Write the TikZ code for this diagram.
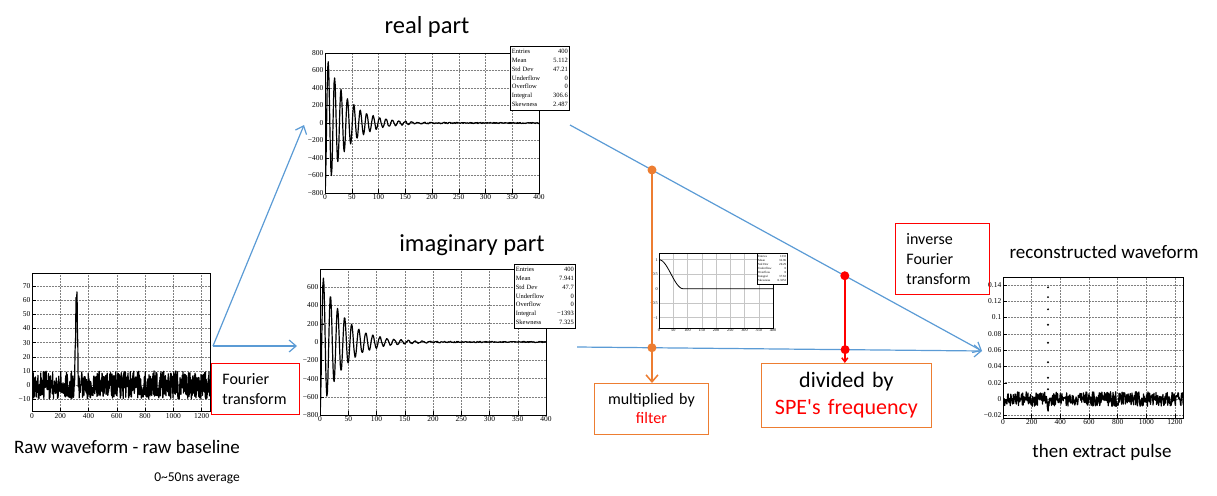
\documentclass[tikz,border=0pt]{standalone}
\usepackage{fontspec}
\setmainfont{Carlito}
\newfontfamily\rootfont{Liberation Serif}
\usetikzlibrary{arrows.meta,positioning}
\definecolor{flowblue}{RGB}{91,155,213}
\definecolor{floworange}{RGB}{237,125,49}
\tikzset{
  plotframe/.style={draw=black,line width=0.8pt},
  gridline/.style={draw=gray,densely dotted,line width=0.5pt},
  signal/.style={draw=black,line width=1.2pt,line join=round},
  ticklab/.style={font=\rootfont\fontsize{7.5}{9}\selectfont,inner sep=1.5pt},
  statbox/.style={draw=black,line width=0.7pt,fill=white,inner sep=1.5pt,anchor=north west,
    font=\rootfont\fontsize{6.5}{8.7}\selectfont},
  plottitle/.style={font=\fontsize{24.5}{28}\selectfont},
  capfont/.style={font=\fontsize{19}{22}\selectfont},
  redbox/.style={draw=red,line width=0.8pt,anchor=north west,align=left,inner xsep=11pt,
    font=\fontsize{16}{20}\selectfont},
  orangebox/.style={draw=floworange,line width=0.8pt,anchor=north west,align=center,inner xsep=0pt},
  bluearrow/.style={draw=flowblue,line width=1.2pt,->},
}
\newcommand{\statrows}[8]{%
  \begin{tabular*}{#1}{@{}l@{\extracolsep{\fill}}r@{}}
    Entries & #2\\ Mean & #3\\ Std Dev & #4\\ Underflow & #5\\
    Overflow & #6\\ Integral & #7\\ Skewness & #8
  \end{tabular*}}

\begin{document}
\begin{tikzpicture}[x=1pt,y=-1pt,>={Straight Barb[length=7pt,width=12pt]}]
\useasboundingbox (0,0) rectangle (1217,495);
\pgfmathsetseed{2718}

% raw waveform
\begin{scope}[shift={(32pt,-385pt)},x=0.1413pt,y=1.4125pt]
  \foreach \gx in {200,400,...,1200}
    \draw[gridline] (\gx,-19) -- (\gx,79);
  \foreach \gy in {-10,0,...,70}
    \draw[gridline] (0,\gy) -- (1260,\gy);
  \begin{scope}
    \clip (0,-19) rectangle (1260,79);
    \draw[signal] plot[domain=0:1260,samples=631]
      (\x,{10*rand+72*max(0,1-abs(\x-315)/14)});
  \end{scope}
  \draw[plotframe] (0,-19) rectangle (1260,79);
  \foreach \gx in {0,200,...,1200}{
    \draw (\gx,-19) -- +(0pt,4pt);
    \node[ticklab,anchor=north] at (\gx,-19) {\gx};}
  \foreach \gy/\lab in {-10/−10,0/0,10/10,20/20,30/30,40/40,50/50,60/60,70/70}{
    \draw (0,\gy) -- +(4pt,0pt);
    \node[ticklab,anchor=east] at (0,\gy) {\lab};}
\end{scope}

% real part
\begin{scope}[shift={(325pt,-123pt)},x=0.535pt,y=0.0875pt]
  \foreach \gx in {50,100,...,350}
    \draw[gridline] (\gx,-800) -- (\gx,800);
  \foreach \gy in {-600,-400,...,600}
    \draw[gridline] (0,\gy) -- (400,\gy);
  \begin{scope}
    \clip (0,-800) rectangle (400,800);
    \draw[signal] plot[domain=0:400,samples=401]
      (\x,{820*exp(-\x/39)*cos(30*(\x-6))+6*rand});
  \end{scope}
  \draw[plotframe] (0,-800) rectangle (400,800);
  \foreach \gx in {0,50,...,400}{
    \draw (\gx,-800) -- +(0pt,4pt);
    \node[ticklab,anchor=north] at (\gx,-800) {\gx};}
  \foreach \gy/\lab in {-800/−800,-600/−600,-400/−400,-200/−200,0/0,200/200,400/400,600/600,800/800}{
    \draw (0,\gy) -- +(4pt,0pt);
    \node[ticklab,anchor=east] at (0,\gy) {\lab};}
\end{scope}
\node[statbox,text width=56pt] (realstats) at (510,46)
  {\statrows{56pt}{400}{5.112}{47.21}{0}{0}{306.6}{2.487}};
\node[plottitle] (realtitle) at (427,27) {real part};

% imaginary part
\begin{scope}[shift={(320pt,-342pt)},x=0.565pt,y=0.0915pt]
  \foreach \gx in {50,100,...,350}
    \draw[gridline] (\gx,-800) -- (\gx,790);
  \foreach \gy in {-600,-400,...,600}
    \draw[gridline] (0,\gy) -- (400,\gy);
  \begin{scope}
    \clip (0,-800) rectangle (400,790);
    \draw[signal] plot[domain=0:400,samples=401]
      (\x,{820*exp(-\x/39)*sin(28.8*(\x-3))+6*rand});
  \end{scope}
  \draw[plotframe] (0,-800) rectangle (400,790);
  \foreach \gx in {0,50,...,400}{
    \draw (\gx,-800) -- +(0pt,4pt);
    \node[ticklab,anchor=north] at (\gx,-800) {\gx};}
  \foreach \gy/\lab in {-800/−800,-600/−600,-400/−400,-200/−200,0/0,200/200,400/400,600/600}{
    \draw (0,\gy) -- +(4pt,0pt);
    \node[ticklab,anchor=east] at (0,\gy) {\lab};}
\end{scope}
\node[statbox,text width=58pt] (imagstats) at (514,264)
  {\statrows{58pt}{400}{7.941}{47.7}{0}{0}{−1393}{7.325}};
\node[plottitle] (imagtitle) at (472,245) {imaginary part};

% filter
\begin{scope}[shift={(659pt,-288.7pt)},x=0.285pt,y=29pt]
  \foreach \gx in {50,100,...,350}
    \draw[gridline,solid,draw=gray!45] (\gx,-1.35) -- (\gx,1.22);
  \foreach \gy in {-1,-0.5,0.5,1}
    \draw[gridline,solid,draw=gray!45] (0,\gy) -- (400,\gy);
  \draw[signal,line width=0.8pt] plot[domain=0:85,samples=30]
    (\x,{0.5*(1+cos(180*\x/85))}) -- (400,0);
  \draw[plotframe,line width=0.5pt] (0,-1.35) rectangle (400,1.22);
  \foreach \gx in {0,50,...,400}
    \node[ticklab,font=\rootfont\fontsize{4.2}{5}\selectfont,anchor=north,inner sep=1pt] at (\gx,-1.35) {\gx};
  \foreach \gy/\lab in {-1/−1,-0.5/−0.5,0/0,0.5/0.5,1/1}
    \node[ticklab,font=\rootfont\fontsize{4.2}{5}\selectfont,anchor=east,inner sep=1pt] at (0,\gy) {\lab};
\end{scope}
\node[statbox,text width=28pt,inner sep=1pt,line width=0.4pt,font=\rootfont\fontsize{3.1}{4.1}\selectfont]
  (filterstats) at (757,253) {\statrows{28pt}{1333}{32.96}{20.29}{0}{0}{37.63}{0.3253}};

% reconstructed waveform
\begin{scope}[shift={(1003pt,-399pt)},x=0.1433pt,y=815pt]
  \foreach \gx in {200,400,...,1200}
    \draw[gridline] (\gx,-0.0233) -- (\gx,0.1497);
  \foreach \gy in {-0.02,0.02,0.04,0.06,0.08,0.1,0.12,0.14}
    \draw[gridline] (0,\gy) -- (1260,\gy);
  \draw[gridline] (0,0) -- (1260,0);
  \begin{scope}
    \clip (0,-0.0233) rectangle (1260,0.1497);
    \draw[signal] plot[domain=0:1260,samples=421]
      (\x,{0.009*rand-0.008*max(0,1-abs(\x-320)/30)});
  \end{scope}
  \foreach \py in {0.137,0.125,0.110,0.091,0.069,0.045,0.026,0.012}
    \fill (314,\py) circle (1.1pt);
  \draw[plotframe] (0,-0.0233) rectangle (1260,0.1497);
  \foreach \gx in {0,200,...,1200}{
    \draw (\gx,-0.0233) -- +(0pt,4pt);
    \node[ticklab,anchor=north] at (\gx,-0.0233) {\gx};}
  \foreach \gy/\lab in {-0.02/−0.02,0/0,0.02/0.02,0.04/0.04,0.06/0.06,0.08/0.08,0.1/0.1,0.12/0.12,0.14/0.14}{
    \draw (0,\gy) -- +(4pt,0pt);
    \node[ticklab,anchor=east] at (0,\gy) {\lab};}
\end{scope}

% texts
\node[capfont] (rawcap) at (127,447) {Raw waveform - raw baseline};
\node[font=\fontsize{13.5}{16}\selectfont] (avgnote) at (197,478) {0\textasciitilde 50ns average};
\node[capfont] (rectitle) at (1104,252) {reconstructed waveform};
\node[capfont] (extract) at (1102,452) {then extract pulse};

% boxes
\node[redbox,text width=66pt,minimum height=51pt] (fourier) at (211,363) {Fourier\\transform};
\node[redbox,text width=72pt,minimum height=71pt] (inverse) at (895,223) {inverse\\Fourier\\transform};
\node[orangebox,text width=114pt,minimum height=51pt,font=\fontsize{16}{19}\selectfont]
  (mulbox) at (594,383) {multiplied by\\\textcolor{red}{filter}};
\node[orangebox,text width=170pt,minimum height=64pt,font=\fontsize{22}{27}\selectfont]
  (divbox) at (761,363) {divided by\\\textcolor{red}{SPE\textquotesingle s frequency}};

% arrows
\coordinate (split) at (213,346);
\coordinate (realin) at (304,125);
\coordinate (imagin) at (297,346);
\coordinate (realout) at (570,125);
\coordinate (imagout) at (577,347);
\coordinate (recin) at (982,351);
\draw[bluearrow] (split) -- (realin);
\draw[bluearrow] (split) -- (imagin);
\draw[bluearrow] (realout) -- coordinate[pos=0.199] (mulA) coordinate[pos=0.667] (divA) (recin);
\draw[bluearrow] (imagout) -- coordinate[pos=0.185] (mulB) coordinate[pos=0.662] (divB) (recin);
\draw[floworange,line width=1.5pt,->] (mulA) -- (mulA |- mulbox.north);
\draw[red,line width=1.5pt,-{Straight Barb[length=4pt,width=6pt]}] (divA) -- (divA |- divbox.north);
\foreach \p in {mulA,mulB} \fill[floworange] (\p) circle (4.5pt);
\foreach \p in {divA,divB} \fill[red] (\p) circle (4.5pt);
\end{tikzpicture}
\end{document}
